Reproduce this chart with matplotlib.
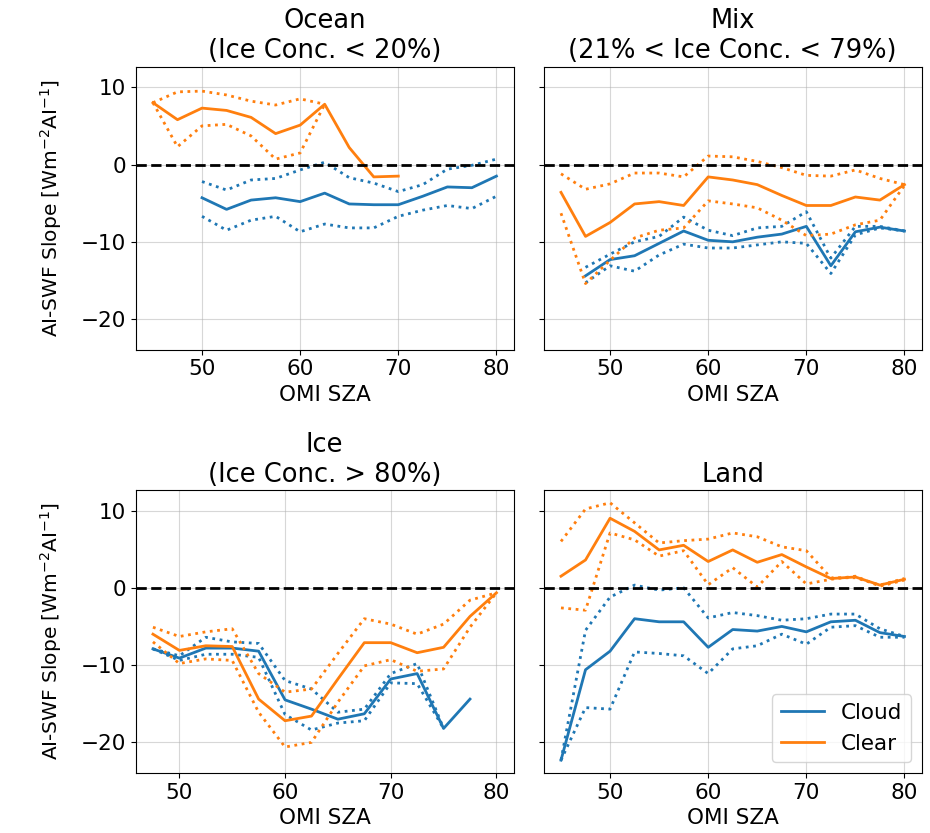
import numpy as np
import matplotlib
matplotlib.use("Agg")
import matplotlib.pyplot as plt

nan = np.nan
sza = [45, 47.5, 50, 52.5, 55, 57.5, 60, 62.5, 65, 67.5, 70, 72.5, 75, 77.5, 80]

# Ocean (Ice Conc. < 20%)
ocean_clear = [8.0, 5.8, 7.3, 7.0, 6.1, 4.0, 5.1, 7.8, 2.2, -1.6, -1.5, nan, nan, nan, nan]
ocean_clear_hi = [8.0, 9.4, 9.5, 9.0, 8.2, 7.7, 8.5, 7.8, nan, nan, nan, nan, nan, nan, nan]
ocean_clear_lo = [8.0, 2.3, 5.0, 5.2, 3.7, 0.7, 1.5, 7.8, nan, nan, nan, nan, nan, nan, nan]
ocean_cloud = [nan, nan, -4.3, -5.8, -4.6, -4.3, -4.8, -3.7, -5.1, -5.2, -5.2, -4.1, -2.9, -3.0, -1.5]
ocean_cloud_hi = [nan, nan, -2.2, -3.3, -2.0, -1.8, -0.7, 0.3, -1.7, -2.4, -3.5, -2.6, -0.6, -0.1, 0.7]
ocean_cloud_lo = [nan, nan, -6.7, -8.5, -7.2, -6.7, -8.7, -7.7, -8.2, -8.2, -6.7, -5.9, -5.3, -5.7, -4.1]

# Mix (21% < Ice Conc. < 79%)
mix_clear = [-3.6, -9.3, -7.5, -5.1, -4.8, -5.3, -1.6, -2.0, -2.6, -4.0, -5.3, -5.3, -4.2, -4.6, -2.6]
mix_clear_hi = [-1.2, -3.2, -2.5, -1.1, -1.1, -1.6, 1.1, 1.0, 0.4, -0.4, -1.4, -1.5, -0.7, -1.8, -2.6]
mix_clear_lo = [-6.3, -15.4, -12.4, -9.5, -8.5, -8.2, -4.7, -5.1, -5.6, -7.2, -9.2, -9.0, -7.8, -7.2, -2.7]
mix_cloud = [nan, -14.4, -12.3, -11.8, -10.2, -8.6, -9.8, -10.0, -9.4, -9.0, -8.0, -13.1, -8.7, -8.1, -8.6]
mix_cloud_hi = [nan, -13.3, -11.6, -10.0, -9.3, -6.8, -8.5, -9.2, -8.2, -8.0, -6.1, -12.1, -8.0, -8.0, -8.6]
mix_cloud_lo = [nan, -15.3, -13.1, -13.8, -11.7, -10.3, -10.8, -10.8, -10.4, -10.0, -10.2, -14.1, -9.1, -8.2, -8.6]

# Ice (Ice Conc. > 80%)
ice_clear = [nan, -6.0, -8.1, -7.5, -7.6, -14.4, -17.2, -16.6, -11.8, -7.1, -7.1, -8.4, -7.7, -3.7, -0.65]
ice_clear_hi = [nan, -5.1, -6.3, -5.7, -5.3, -11.1, -13.5, -13.1, -8.5, -4.0, -4.7, -6.0, -4.7, -1.6, -0.65]
ice_clear_lo = [nan, -7.0, -9.8, -9.2, -9.4, -16.1, -20.6, -20.0, -14.8, -10.1, -9.3, -10.8, -10.5, -5.1, -0.65]
ice_cloud = [nan, -7.9, -9.1, -7.8, -7.8, -8.2, -14.5, -15.7, -17.0, -16.3, -11.8, -11.1, -18.2, -14.4, nan]
ice_cloud_hi = [nan, -7.9, -8.8, -6.4, -7.0, -7.2, -12.0, -13.1, -16.1, -15.7, -11.1, -9.8, -18.2, nan, nan]
ice_cloud_lo = [nan, -7.9, -9.4, -8.6, -8.6, -9.0, -16.4, -18.4, -17.5, -17.2, -12.3, -12.4, -18.2, nan, nan]

# Land
land_clear = [1.5, 3.6, 9.0, 7.3, 4.9, 5.5, 3.4, 4.9, 3.3, 4.3, 2.7, 1.2, 1.4, 0.35, 1.1]
land_clear_hi = [6.0, 10.2, 11.0, 8.4, 5.8, 6.1, 6.3, 7.1, 6.6, 5.3, 4.8, 1.3, 1.3, 0.35, 1.2]
land_clear_lo = [-2.6, -2.9, 7.1, 6.2, 4.1, 4.8, 0.4, 2.6, 0.1, 3.4, 0.5, 1.1, 1.5, 0.2, 1.0]
land_cloud = [-22.3, -10.6, -8.2, -4.0, -4.4, -4.4, -7.7, -5.4, -5.6, -5.0, -5.7, -4.4, -4.2, -5.8, -6.3]
land_cloud_hi = [-22.3, -5.5, -1.2, 0.35, -0.3, 0.0, -3.9, -3.2, -3.6, -4.2, -4.0, -3.4, -3.4, -5.3, -6.3]
land_cloud_lo = [-22.3, -15.5, -15.7, -8.3, -8.5, -8.8, -11.1, -7.9, -7.5, -6.0, -7.3, -5.1, -4.9, -6.4, -6.4]

titles = ["Ocean\n(Ice Conc. < 20%)", "Mix\n(21% < Ice Conc. < 79%)",
          "Ice\n(Ice Conc. > 80%)", "Land"]
panels = [
    (ocean_cloud, ocean_cloud_hi, ocean_cloud_lo, ocean_clear, ocean_clear_hi, ocean_clear_lo),
    (mix_cloud, mix_cloud_hi, mix_cloud_lo, mix_clear, mix_clear_hi, mix_clear_lo),
    (ice_cloud, ice_cloud_hi, ice_cloud_lo, ice_clear, ice_clear_hi, ice_clear_lo),
    (land_cloud, land_cloud_hi, land_cloud_lo, land_clear, land_clear_hi, land_clear_lo),
]

fs = 15.5
fig, axs = plt.subplots(2, 2, figsize=(9.3, 8.33), dpi=100, sharey=True)
fig.subplots_adjust(left=0.146, right=0.991, bottom=0.072, top=0.92, wspace=0.08, hspace=0.495)
axs = axs.flatten()

for ax, title, (cl, cl_hi, cl_lo, cr, cr_hi, cr_lo) in zip(axs, titles, panels):
    ax.plot(sza, cl, color='tab:blue', lw=2, label='Cloud')
    ax.plot(sza, cl_hi, color='tab:blue', lw=2, ls=':')
    ax.plot(sza, cl_lo, color='tab:blue', lw=2, ls=':')
    ax.plot(sza, cr, color='tab:orange', lw=2, label='Clear')
    ax.plot(sza, cr_hi, color='tab:orange', lw=2, ls=':')
    ax.plot(sza, cr_lo, color='tab:orange', lw=2, ls=':')
    ax.axhline(0, color='black', ls='--', lw=2)
    ax.grid(alpha=0.5)
    ax.set_title(title, fontsize=18.5)
    ax.set_xlabel('OMI SZA', fontsize=fs)
    ax.tick_params(labelsize=fs)

axs[0].set_ylabel('AI-SWF Slope [Wm$^{-2}$AI$^{-1}$]', fontsize=fs - 1, labelpad=12)
axs[2].set_ylabel('AI-SWF Slope [Wm$^{-2}$AI$^{-1}$]', fontsize=fs - 1, labelpad=12)
axs[3].legend(loc='lower right', fontsize=fs)

plt.savefig('out.png', dpi=100)
